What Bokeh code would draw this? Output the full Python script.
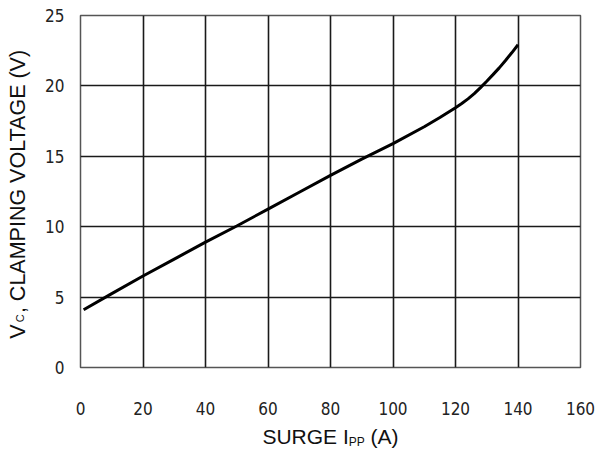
import math
from bokeh.plotting import figure
from bokeh.models import Range1d, FixedTicker, LinearAxis
from bokeh.embed import file_html
from bokeh.resources import INLINE

# Data
surge_ipp = [1, 10, 20, 30, 40, 50, 60, 70, 80, 90, 100, 110, 115, 120, 122, 124, 126, 128, 130, 132, 134, 136, 138, 140]
clamp_v = [4.1, 5.25, 6.5, 7.7, 8.9, 10.05, 11.25, 12.45, 13.65, 14.8, 15.9, 17.1, 17.75, 18.45, 18.75, 19.08, 19.45, 19.88, 20.33, 20.8, 21.28, 21.8, 22.35, 22.92]
x_ticks = [0, 20, 40, 60, 80, 100, 120, 140, 160]
y_ticks = [0, 5, 10, 15, 20, 25]

# Axis title pieces (text, font size, gap before in px)
x_title = [("SURGE I", 21, 0), ("PP", 12, 0), ("(A)", 21, 5.8)]
y_title = [("V", 21.5, 0), ("C", 11, 2), (", CLAMPING VOLTAGE (V)", 21.5, 0)]

W, H = 597, 451
BL, BR, BT, BB = 80, 17, 15, 83
FW, FH = W - BL - BR, H - BT - BB

p = figure(width=W, height=H, output_backend="svg", toolbar_location=None,
           x_range=Range1d(0, 160), y_range=Range1d(0, 25),
           min_border_left=BL, min_border_right=BR, min_border_top=BT, min_border_bottom=BB)

p.line(surge_ipp, clamp_v, line_color="black", line_width=3)

tick_font = "DejaVu Sans Condensed, Roboto, sans-serif"
lab_font = "Liberation Sans"


def plain(ax):
    ax.axis_line_color = None
    ax.major_tick_line_color = None
    ax.minor_tick_line_color = None
    ax.major_tick_out = 0
    ax.major_tick_in = 0
    ax.minor_tick_out = 0
    ax.minor_tick_in = 0


for ax, ticks in ((p.xaxis[0], x_ticks), (p.yaxis[0], y_ticks)):
    ax.ticker = FixedTicker(ticks=ticks)
    plain(ax)
    ax.major_label_text_font = tick_font
    ax.major_label_text_font_size = "17px"
    ax.major_label_text_color = "#222222"
p.xaxis[0].major_label_standoff = 34
p.yaxis[0].major_label_standoff = 16

p.grid.grid_line_color = "#1a1a1a"
p.grid.grid_line_width = 1.6
p.outline_line_color = "#555555"
p.outline_line_width = 1.5
p.background_fill_color = "white"
p.border_fill_color = "white"

# widths of Liberation Sans (Arial metrics) per em
ADV = {"S": .667, "U": .722, "R": .722, "G": .778, "E": .667, " ": .278, "I": .278,
       "P": .667, "(": .333, ")": .333, "A": .667, "V": .667, "C": .722, ",": .278,
       "L": .556, "M": .833, "N": .722, "O": .778, "T": .611}


def width(t, s):
    return sum(ADV[c] for c in t) * s


xs = FW / 160.0
ys = FH / 25.0


def centers(pieces, start_px, scale):
    out, cur = [], start_px
    for t, s, gap in pieces:
        cur += gap
        w = width(t, s)
        out.append(round((cur + w / 2) / scale, 2))
        cur += w
    return out


# X title pieces, centred under the frame
tot = sum(width(t, s) + g for t, s, g in x_title)
xc = centers(x_title, FW / 2 - tot / 2, xs)
# Y title pieces, starting 29px above the frame bottom
yc = centers(y_title, 29, ys)


def title_axis(side, pos, texts, size, standoff, vertical=False):
    ax = LinearAxis(ticker=FixedTicker(ticks=pos),
                    major_label_overrides={v: t for v, t in zip(pos, texts)})
    plain(ax)
    ax.major_label_text_font = lab_font
    ax.major_label_text_font_size = f"{size}px"
    ax.major_label_text_color = "#111111"
    ax.major_label_standoff = int(standoff)
    if vertical:
        ax.major_label_orientation = "vertical"
    p.add_layout(ax, side)
    return ax


# x: big pieces then the subscript pulled back onto the same baseline
title_axis("below", [xc[0], xc[2]], [x_title[0][0], x_title[2][0]], 21, 7)
title_axis("below", [xc[1]], [x_title[1][0]], 12, -16)
# y: big pieces then the subscript
title_axis("left", [yc[0], yc[2]], [y_title[0][0], y_title[2][0]], 21.5, 12, vertical=True)
title_axis("left", [yc[1]], [y_title[1][0]], 11, -23, vertical=True)

open("out.html", "w").write(file_html(p, INLINE))
